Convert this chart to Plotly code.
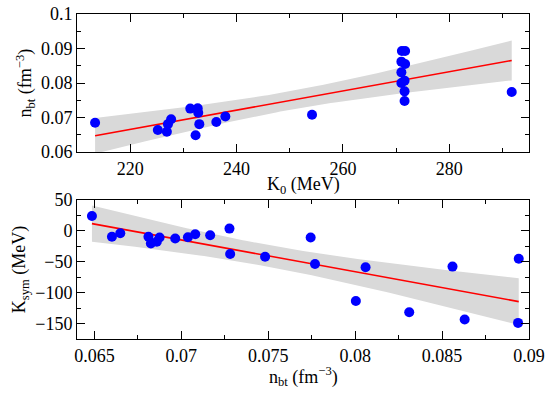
import numpy as np
import plotly.graph_objects as go

# Top panel: K0 (MeV) vs n_bt (fm^-3)
k0_values = [213.4, 225.2, 226.9, 227.1, 227.7, 231.3, 232.7, 232.8, 232.3, 233.0,
             236.2, 237.9, 254.2, 271.1, 271.7, 271.0, 271.7, 271.0, 271.6, 271.0,
             271.6, 271.6, 291.75]
nbt_top = [0.0685, 0.0664, 0.0659, 0.0681, 0.0695, 0.0726, 0.0727, 0.0714, 0.0649, 0.0681,
           0.0687, 0.0703, 0.0708, 0.0893, 0.0893, 0.0862, 0.0855, 0.0831, 0.0807, 0.0800,
           0.0776, 0.0748, 0.0774]

# Bottom panel: n_bt (fm^-3) vs Ksym (MeV)
nbt_bottom = [0.06486, 0.06601, 0.06649, 0.06811, 0.06825, 0.06859, 0.06875, 0.06965,
              0.07038, 0.07080, 0.07166, 0.07277, 0.07281, 0.07482, 0.07744, 0.07769,
              0.08060, 0.08004, 0.08311, 0.08560, 0.08630, 0.08941, 0.08937]
ksym_values = [24.1, -9.6, -3.7, -9.6, -20.4, -17.7, -10.7, -12.3, -10.2, -5.4, -7.0, 3.7,
               -37.5, -41.8, -10.7, -53.6, -58.9, -113.6, -131.8, -57.8, -143.5, -45.0, -148.9]

x_titles = ["K<sub>0</sub> (MeV)", "n<sub>bt</sub> (fm<sup>−3</sup>)"]
y_titles = ["n<sub>bt</sub> (fm<sup>−3</sup>)", "K<sub>sym</sub> (MeV)"]


def fit_band(x, y, t=2.83, npts=100):
    x = np.asarray(x, float)
    y = np.asarray(y, float)
    n = len(x)
    b, a = np.polyfit(x, y, 1)
    resid = y - (a + b * x)
    s = np.sqrt(np.sum(resid ** 2) / (n - 2))
    xm = x.mean()
    sxx = np.sum((x - xm) ** 2)
    xs = np.linspace(x.min(), x.max(), npts)
    ys = a + b * xs
    half = t * s * np.sqrt(1.0 / n + (xs - xm) ** 2 / sxx)
    return xs, ys, ys - half, ys + half


fig = go.Figure()

BAND = "#d9d9d9"
FONT = "Liberation Serif, Times New Roman, serif"

for x, y, xa, ya in [(k0_values, nbt_top, "x", "y"), (nbt_bottom, ksym_values, "x2", "y2")]:
    xs, ys, lo, hi = fit_band(x, y)
    fig.add_trace(go.Scatter(x=np.concatenate([xs, xs[::-1]]), y=np.concatenate([hi, lo[::-1]]),
                             fill="toself", fillcolor=BAND, line=dict(width=0),
                             mode="lines", hoverinfo="skip", showlegend=False,
                             xaxis=xa, yaxis=ya))
    fig.add_trace(go.Scatter(x=xs, y=ys, mode="lines", line=dict(color="red", width=1.6),
                             showlegend=False, xaxis=xa, yaxis=ya))
    fig.add_trace(go.Scatter(x=x, y=y, mode="markers",
                             marker=dict(color="#0000ff", size=10),
                             showlegend=False, xaxis=xa, yaxis=ya))


def axis(**kw):
    d = dict(showline=True, linecolor="black", linewidth=1, mirror="allticks",
             ticks="inside", ticklen=8, tickcolor="black", showgrid=False,
             zeroline=False, automargin=False,
             tickfont=dict(family=FONT, size=18, color="black"))
    d.update(kw)
    return d


def title(text, standoff):
    return dict(text=text, standoff=standoff, font=dict(family=FONT, size=18, color="black"))


fig.update_layout(
    template="none",
    font=dict(family=FONT, size=18, color="black"),
    width=550, height=396,
    margin=dict(l=77, r=21, t=14, b=57, autoexpand=False),
    paper_bgcolor="white", plot_bgcolor="white",
    xaxis=axis(domain=[0, 1], anchor="y", range=[210, 295], dtick=20, tick0=0,
               minor=dict(dtick=10, ticklen=4, ticks="inside", tickcolor="black")),
    yaxis=axis(domain=[0.575, 1], anchor="x", range=[0.06, 0.1], dtick=0.01, tick0=0,
               minor=dict(dtick=0.005, ticklen=4, ticks="inside", tickcolor="black"),
               title=title(y_titles[0], 4)),
    xaxis2=axis(domain=[0, 1], anchor="y2", range=[0.064, 0.09], dtick=0.005, tick0=0,
                minor=dict(dtick=0.0025, ticklen=4, ticks="inside", tickcolor="black")),
    yaxis2=axis(domain=[0, 0.4277], anchor="x2", range=[-175, 50], dtick=50, tick0=0,
                minor=dict(dtick=25, ticklen=4, ticks="inside", tickcolor="black"),
                title=title(y_titles[1], 4)),
)

# x-axis titles as annotations for precise vertical placement
fig.add_annotation(text=x_titles[0], xref="paper", yref="paper", x=0.5, y=0.471,
                   xanchor="center", yanchor="middle", showarrow=False,
                   font=dict(family=FONT, size=18, color="black"))
fig.add_annotation(text=x_titles[1], xref="paper", yref="paper", x=0.5, y=-0.116,
                   xanchor="center", yanchor="middle", showarrow=False,
                   font=dict(family=FONT, size=18, color="black"))

fig.write_html("out.html", config={"displayModeBar": False},
               post_script="document.body.style.margin='0';document.body.style.padding='0';")
